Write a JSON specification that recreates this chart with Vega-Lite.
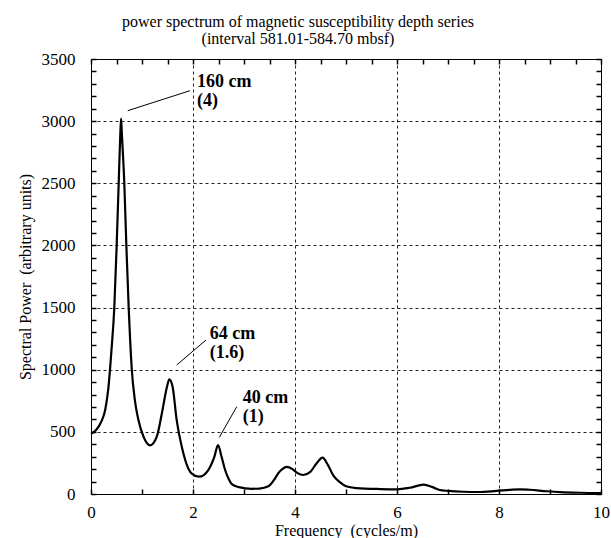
{
  "$schema": "https://vega.github.io/schema/vega-lite/v6.json",
  "autosize": {"type": "none"},
  "width": 510,
  "height": 435,
  "padding": {"left": 91, "top": 59, "right": 10, "bottom": 44},
  "background": "white",
  "config": {
    "view": {"stroke": "black", "strokeWidth": 1},
    "font": "Liberation Serif",
    "axis": {
      "labelFont": "Liberation Serif",
      "titleFont": "Liberation Serif",
      "labelFontSize": 17,
      "titleFontSize": 16,
      "titleFontWeight": "normal",
      "labelColor": "black",
      "titleColor": "black",
      "gridColor": "#222",
      "gridWidth": 1,
      "gridDash": [3, 3]
    }
  },
  "title": {
    "text": ["power spectrum of magnetic susceptibility depth series", "(interval 581.01-584.70 mbsf)"],
    "font": "Liberation Serif",
    "fontSize": 16,
    "fontWeight": "normal",
    "color": "black",
    "lineHeight": 17,
    "anchor": "middle",
    "dx": -48,
    "offset": 3
  },
  "datasets": {
    "spectrum": [
      {"f": 0, "p": 485}, {"f": 0.1, "p": 515}, {"f": 0.2, "p": 580}, {"f": 0.28, "p": 680},
      {"f": 0.34, "p": 850}, {"f": 0.4, "p": 1150}, {"f": 0.457, "p": 1500}, {"f": 0.503, "p": 2000},
      {"f": 0.543, "p": 2500}, {"f": 0.575, "p": 2900}, {"f": 0.59, "p": 3020}, {"f": 0.605, "p": 2900},
      {"f": 0.653, "p": 2500}, {"f": 0.693, "p": 2000}, {"f": 0.739, "p": 1500}, {"f": 0.8, "p": 1000},
      {"f": 0.86, "p": 756}, {"f": 0.93, "p": 595}, {"f": 1.03, "p": 461}, {"f": 1.16, "p": 392},
      {"f": 1.29, "p": 461}, {"f": 1.39, "p": 650}, {"f": 1.49, "p": 863}, {"f": 1.535, "p": 922},
      {"f": 1.6, "p": 863}, {"f": 1.68, "p": 595}, {"f": 1.78, "p": 380}, {"f": 1.97, "p": 166},
      {"f": 2.12, "p": 139}, {"f": 2.3, "p": 193}, {"f": 2.42, "p": 300}, {"f": 2.49, "p": 394},
      {"f": 2.56, "p": 300}, {"f": 2.63, "p": 193}, {"f": 2.7, "p": 120}, {"f": 2.76, "p": 80},
      {"f": 2.9, "p": 55}, {"f": 3.15, "p": 42}, {"f": 3.3, "p": 44}, {"f": 3.48, "p": 62},
      {"f": 3.6, "p": 120}, {"f": 3.67, "p": 166}, {"f": 3.75, "p": 200}, {"f": 3.84, "p": 218},
      {"f": 3.95, "p": 200}, {"f": 4.05, "p": 168}, {"f": 4.16, "p": 153}, {"f": 4.3, "p": 178},
      {"f": 4.42, "p": 245}, {"f": 4.54, "p": 293}, {"f": 4.65, "p": 230}, {"f": 4.75, "p": 150},
      {"f": 4.88, "p": 95}, {"f": 5.0, "p": 62}, {"f": 5.2, "p": 48}, {"f": 5.67, "p": 40},
      {"f": 6.0, "p": 38}, {"f": 6.25, "p": 50}, {"f": 6.52, "p": 75}, {"f": 6.7, "p": 55},
      {"f": 6.84, "p": 32}, {"f": 7.0, "p": 25}, {"f": 7.3, "p": 18}, {"f": 7.6, "p": 16},
      {"f": 7.95, "p": 25}, {"f": 8.2, "p": 33}, {"f": 8.41, "p": 38}, {"f": 8.6, "p": 34},
      {"f": 8.94, "p": 22}, {"f": 9.2, "p": 15}, {"f": 9.59, "p": 10}, {"f": 10, "p": 8}
    ],
    "leaders": [
      {"x1": 0.72, "y1": 3084, "x2": 1.94, "y2": 3245},
      {"x1": 1.68, "y1": 1038, "x2": 2.255, "y2": 1239},
      {"x1": 2.516, "y1": 456, "x2": 2.857, "y2": 702}
    ],
    "labels": [
      {"tx": 2.08, "ty": 3317, "label": "160 cm\n(4)"},
      {"tx": 2.33, "ty": 1287, "label": "64 cm\n(1.6)"},
      {"tx": 2.975, "ty": 770, "label": "40 cm\n(1)"}
    ]
  },
  "resolve": {"axis": {"x": "independent", "y": "independent"}},
  "layer": [
    {
      "data": {"name": "spectrum"},
      "mark": {"type": "line", "color": "black", "strokeWidth": 2.2, "interpolate": "monotone"},
      "encoding": {
        "x": {
          "field": "f", "type": "quantitative",
          "scale": {"domain": [0, 10], "nice": false, "zero": false},
          "axis": {
            "orient": "bottom",
            "title": "Frequency \u00a0(cycles/m)",
            "titlePadding": 2,
            "offset": -5,
            "zindex": 2,
            "values": [0,0.5,1,1.5,2,2.5,3,3.5,4,4.5,5,5.5,6,6.5,7,7.5,8,8.5,9,9.5,10],
            "format": "d",
            "labelExpr": "datum.value % 2 === 0 ? datum.label : ''",
            "ticks": true,
            "tickColor": "black",
            "tickWidth": 1.5,
            "tickSize": 5,
            "domain": false,
            "labelPadding": 10,
            "labelFlush": false,
            "labelOverlap": false,
            "grid": false
          }
        },
        "y": {
          "field": "p", "type": "quantitative",
          "scale": {"domain": [0, 3500], "nice": false},
          "axis": {
            "orient": "left",
            "title": "Spectral Power \u00a0(arbitrary units)",
            "titlePadding": 8,
            "offset": -5,
            "zindex": 2,
            "values": [0,100,200,300,400,500,600,700,800,900,1000,1100,1200,1300,1400,1500,1600,1700,1800,1900,2000,2100,2200,2300,2400,2500,2600,2700,2800,2900,3000,3100,3200,3300,3400,3500],
            "format": "d",
            "labelExpr": "datum.value % 500 === 0 ? datum.label : ''",
            "ticks": true,
            "tickColor": "black",
            "tickWidth": 1.5,
            "tickSize": 5,
            "domain": false,
            "labelPadding": 16,
            "labelFlush": false,
            "labelOverlap": false,
            "grid": false
          }
        }
      }
    },
    {
      "data": {"name": "leaders"},
      "mark": {"type": "rule", "color": "black", "strokeWidth": 1},
      "encoding": {
        "x": {
          "field": "x1", "type": "quantitative",
          "scale": {"domain": [0, 10], "nice": false, "zero": false},
          "axis": {
            "orient": "top", "title": null, "labels": false, "grid": false, "domain": false,
            "offset": -5,
            "zindex": 2,
            "values": [0,0.5,1,1.5,2,2.5,3,3.5,4,4.5,5,5.5,6,6.5,7,7.5,8,8.5,9,9.5,10],
            "ticks": true,
            "tickColor": "black",
            "tickWidth": 1.5,
            "tickSize": 5
          }
        },
        "x2": {"field": "x2"},
        "y": {
          "field": "y1", "type": "quantitative",
          "scale": {"domain": [0, 3500], "nice": false},
          "axis": {
            "orient": "right", "title": null, "labels": false, "grid": false, "domain": false,
            "offset": -5,
            "zindex": 2,
            "values": [0,100,200,300,400,500,600,700,800,900,1000,1100,1200,1300,1400,1500,1600,1700,1800,1900,2000,2100,2200,2300,2400,2500,2600,2700,2800,2900,3000,3100,3200,3300,3400,3500],
            "ticks": true,
            "tickColor": "black",
            "tickWidth": 1.5,
            "tickSize": 5
          }
        },
        "y2": {"field": "y2"}
      }
    },
    {
      "data": {"name": "labels"},
      "mark": {"type": "text", "align": "left", "baseline": "middle", "lineBreak": "\n", "lineHeight": 19, "font": "Liberation Serif", "fontSize": 18, "fontWeight": "bold", "color": "black"},
      "encoding": {
        "x": {
          "field": "tx", "type": "quantitative",
          "axis": {"orient": "bottom", "title": null, "labels": false, "ticks": false, "domain": false, "grid": true, "values": [2, 4, 6, 8]}
        },
        "y": {
          "field": "ty", "type": "quantitative",
          "axis": {"orient": "left", "title": null, "labels": false, "ticks": false, "domain": false, "grid": true, "values": [500, 1000, 1500, 2000, 2500, 3000]}
        },
        "text": {"field": "label"}
      }
    }
  ]
}
